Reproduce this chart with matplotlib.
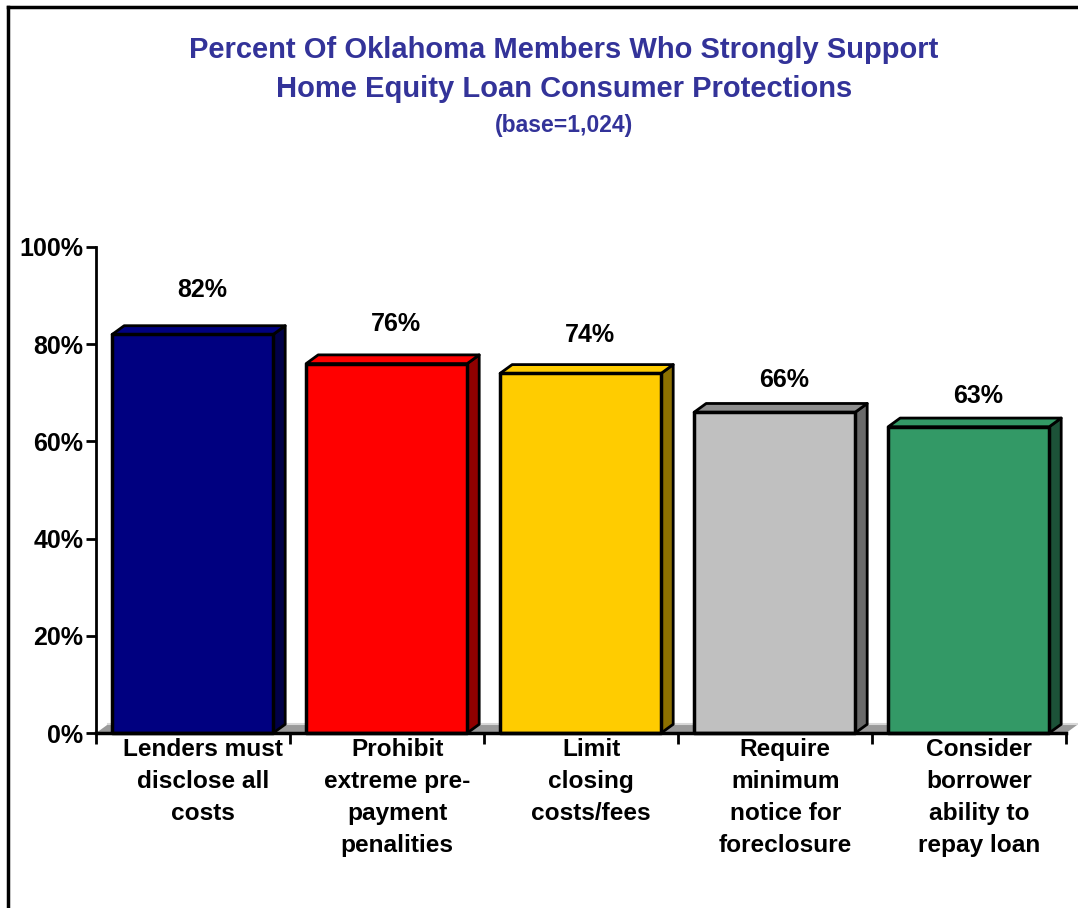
import matplotlib.pyplot as plt
from matplotlib.patches import Polygon
from matplotlib.lines import Line2D

categories = ['Lenders must\ndisclose all\ncosts', 'Prohibit\nextreme pre-\npayment\npenalities',
              'Limit\nclosing\ncosts/fees', 'Require\nminimum\nnotice for\nforeclosure',
              'Consider\nborrower\nability to\nrepay loan']
values = [82, 76, 74, 66, 63]
front_colors = ['#000080', '#FF0000', '#FFCC00', '#C0C0C0', '#339966']
top_colors = ['#000080', '#FF0000', '#FFCC00', '#8E8E8E', '#339966']
side_colors = ['#000048', '#900000', '#8C7000', '#6A6A6A', '#1C5238']
yticks = [0, 20, 40, 60, 80, 100]
ytick_labels = ['0%', '20%', '40%', '60%', '80%', '100%']

plt.rcParams['font.family'] = ['Liberation Sans', 'DejaVu Sans']

fig = plt.figure(figsize=(10.78, 9.08), dpi=100)
ax = fig.add_axes([0.0891, 0.1927, 0.8998, 0.5353])
ax.set_xlim(0, 5)
ax.set_ylim(0, 100)

dx = 0.062   # depth in x (category units)
dy = 1.8     # depth in y (percent)
off = 0.083
w = 0.83

# floor
floor = Polygon([(0, 0), (5, 0), (5 + dx, dy), (dx, dy)], closed=True,
                facecolor='#9a9a9a', edgecolor='none', clip_on=False, zorder=1)
ax.add_patch(floor)
ax.add_line(Line2D([dx, 5 + dx], [dy, dy], color='#d8d8d8', lw=1.5, clip_on=False, zorder=1))

for i, v in enumerate(values):
    x0 = i + off
    x1 = x0 + w
    top = Polygon([(x0, v), (x1, v), (x1 + dx, v + dy), (x0 + dx, v + dy)], closed=True,
                  facecolor=top_colors[i], edgecolor='black', lw=2, clip_on=False, zorder=3,
                  joinstyle='round')
    side = Polygon([(x1, 0), (x1 + dx, dy), (x1 + dx, v + dy), (x1, v)], closed=True,
                   facecolor=side_colors[i], edgecolor='black', lw=2, clip_on=False, zorder=3,
                   joinstyle='round')
    front = Polygon([(x0, 0), (x1, 0), (x1, v), (x0, v)], closed=True,
                    facecolor=front_colors[i], edgecolor='black', lw=2.5, clip_on=False, zorder=4,
                    joinstyle='round')
    ax.add_patch(side)
    ax.add_patch(top)
    ax.add_patch(front)
    # label height as placed in the original chart
    ax.text(i + 0.5 + 0.045, v * 1.15 - 3.2, f'{v}%', ha='center', va='center',
            fontsize=18, fontweight='bold', color='black')

for s in ['top', 'right']:
    ax.spines[s].set_visible(False)
ax.spines['left'].set_linewidth(2)
ax.spines['bottom'].set_linewidth(2.5)
ax.spines['bottom'].set_zorder(5)

ax.set_yticks(yticks)
ax.set_yticklabels(ytick_labels, fontsize=18, fontweight='bold')
ax.tick_params(axis='y', length=7, width=2, pad=2)

ax.set_xticks(range(6))
ax.set_xticklabels([])
ax.tick_params(axis='x', length=8, width=2, direction='out')
for i, lab in enumerate(categories):
    ax.text(i + 0.5 + 0.052, -1.1, lab, ha='center', va='top', fontsize=17.6,
            fontweight='bold', linespacing=1.5)

title_color = '#333399'
fig.text(0.523, 0.945, 'Percent Of Oklahoma Members Who Strongly Support', ha='center', va='center',
         fontsize=21, fontweight='bold', color=title_color)
fig.text(0.523, 0.902, 'Home Equity Loan Consumer Protections', ha='center', va='center',
         fontsize=21, fontweight='bold', color=title_color)
fig.text(0.523, 0.862, '(base=1,024)', ha='center', va='center',
         fontsize=16.5, fontweight='bold', color=title_color)

# outer frame (left and top edges)
fig.add_artist(Line2D([0.0075, 0.0075], [0, 0.9925], color='black', lw=2.5, transform=fig.transFigure))
fig.add_artist(Line2D([0.0075, 1.0], [0.9925, 0.9925], color='black', lw=2.5, transform=fig.transFigure))

fig.savefig('out.png', dpi=100)
